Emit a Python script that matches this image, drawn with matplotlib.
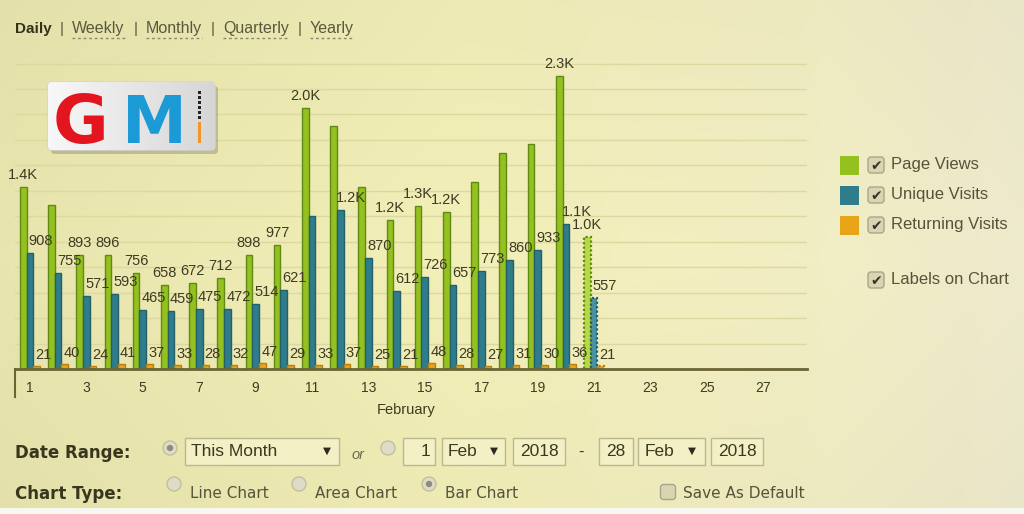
import numpy as np
import matplotlib.pyplot as plt
from matplotlib.patches import Rectangle, FancyBboxPatch, Circle

W, H = 1024, 514

# Daily traffic, 1-21 Feb 2018 (day 21 is the partial, still-running day)
days = list(range(1, 22))
page_views = [1430, 1290, 893, 896, 756, 658, 672, 712, 898, 977, 2050,
              1910, 1430, 1170, 1280, 1230, 1470, 1700, 1770, 2300, 1040]
unique_visits = [908, 755, 571, 593, 465, 459, 475, 472, 514, 621, 1205,
                 1250, 870, 612, 726, 657, 773, 860, 933, 1140, 557]
returning_visits = [21, 40, 24, 41, 37, 33, 28, 32, 47, 29, 33,
                    37, 25, 21, 48, 28, 27, 31, 30, 36, 21]

# labels the widget dropped because they collided with a neighbour
hidden_pv = [2, 12, 13, 17, 18, 19]
hidden_uv = [11]
partial_day = 21

tick_days = list(range(1, 29, 2))
month_name = 'February'
series_names = ['Page Views', 'Unique Visits', 'Returning Visits']
nav_items = ['Daily', 'Weekly', 'Monthly', 'Quarterly', 'Yearly']

GREEN = '#94c11f'
TEAL = '#2f7d8a'
ORANGE = '#e8a317'
TXT = '#3d3b22'

plt.rcParams['font.family'] = ['Liberation Sans', 'DejaVu Sans']

fig = plt.figure(figsize=(W / 100, H / 100), dpi=100)

# ---------------------------------------------------------------
# page background: pale yellow gradient
# ---------------------------------------------------------------
bg = fig.add_axes([0, 0, 1, 1], zorder=0)
xs = np.linspace(0, 1, W)
ys = np.linspace(0, 1, H)
chan = []
for stops in ([0xe9, 0xf3, 0xf2, 0xee], [0xe5, 0xef, 0xee, 0xea],
              [0xae, 0xb8, 0xc4, 0xcc]):
    chan.append(np.interp(xs, [0, 0.45, 0.8, 1], stops) / 255.0)
grad = np.dstack([np.tile(c, (H, 1)) for c in chan])
shade = 1 - 0.02 * np.abs(ys - 0.5)[:, None] * 2
grad = np.clip(grad * shade[:, :, None], 0, 1)
bg.imshow(grad, aspect='auto', extent=(0, W, H, 0))
bg.set_xlim(0, W)
bg.set_ylim(H, 0)
bg.axis('off')

# ---------------------------------------------------------------
# bar chart
# ---------------------------------------------------------------
ax = fig.add_axes([15 / W, (H - 369) / H, (807 - 15) / W, (369 - 63) / H],
                  zorder=1)
ax.patch.set_alpha(0)

x = np.array(days, dtype=float)
bw = 0.237
pv_bars = ax.bar(x - bw, page_views, bw, color=GREEN, edgecolor='#5f8a14',
                 linewidth=1, zorder=3)
uv_bars = ax.bar(x, unique_visits, bw, color=TEAL, edgecolor='#245f6a',
                 linewidth=1, zorder=3)
rv_bars = ax.bar(x + bw, returning_visits, bw, color=ORANGE,
                 edgecolor='#b87f10', linewidth=1, zorder=3)

# the running day is drawn dotted
k = days.index(partial_day)
for b in (pv_bars[k], uv_bars[k], rv_bars[k]):
    b.set_linestyle((0, (1, 1)))
    b.set_linewidth(1.6)
pv_bars[k].set_facecolor('#b7d84a')
uv_bars[k].set_facecolor('#4b93a0')


def fmt(v):
    return f'{v / 1000:.1f}K' if v >= 1000 else str(v)


for i, d in enumerate(days):
    if d not in hidden_pv:
        ax.annotate(fmt(page_views[i]), (x[i] - bw, page_views[i]),
                    xytext=(0, 12), textcoords='offset pixels', ha='center',
                    va='center', fontsize=10.5, color=TXT, zorder=4)
    if d not in hidden_uv:
        ax.annotate(fmt(unique_visits[i]), (x[i], unique_visits[i]),
                    xytext=(11, 12), textcoords='offset pixels', ha='center',
                    va='center', fontsize=10.5, color=TXT, zorder=4)
    ax.annotate(fmt(returning_visits[i]), (x[i] + bw, returning_visits[i]),
                xytext=(7, 11), textcoords='offset pixels', ha='center',
                va='center', fontsize=10.5, color=TXT, zorder=4)

ax.set_xlim(0.47, 28.55)
ax.set_ylim(0, 2404)
ax.set_yticks(range(0, 2401, 200))
ax.set_yticklabels([])
ax.tick_params(axis='y', length=0)
ax.set_xticks(tick_days)
ax.set_xticklabels([str(d) for d in tick_days])
ax.tick_params(axis='x', length=0, pad=9, labelsize=10, labelcolor=TXT)
ax.yaxis.grid(True, color='#ddd7a0', linewidth=1)
ax.set_axisbelow(True)
for side in ('top', 'right', 'left'):
    ax.spines[side].set_visible(False)
ax.spines['bottom'].set_color('#6b6535')
ax.spines['bottom'].set_linewidth(2)
ax.spines['bottom'].set_zorder(5)

# ---------------------------------------------------------------
# widget chrome, drawn in pixel coordinates
# ---------------------------------------------------------------
ui = fig.add_axes([0, 0, 1, 1], zorder=2)
ui.set_xlim(0, W)
ui.set_ylim(H, 0)
ui.axis('off')
ui.patch.set_alpha(0)

ui.plot([15, 15], [369, 397], color='#6b6535', lw=1.5)
ui.text(406, 410, month_name, ha='center', va='center', fontsize=10.5,
        color=TXT)

# period navigation
nav_x = [15, 72, 146, 223, 310]
nav_end = [52, 126, 202, 289, 354]
for i, name in enumerate(nav_items):
    if i == 0:
        ui.text(nav_x[i], 29, name, fontsize=11, fontweight='bold',
                color='#34321c', va='center')
    else:
        ui.text(nav_x[i] - 10, 29, '|', fontsize=11, color='#5a5840',
                va='center', ha='center')
        ui.text(nav_x[i], 29, name, fontsize=11.5, color='#5a5840',
                va='center')
        ui.plot([nav_x[i], nav_end[i]], [38, 38], color='#8a8870', lw=1,
                linestyle=(0, (2, 2)))


def checkbox(cx, cy, checked=True, s=16):
    ui.add_patch(FancyBboxPatch((cx - s / 2, cy - s / 2), s, s,
                                boxstyle='round,pad=0,rounding_size=3',
                                facecolor='#d9d5b2', edgecolor='#a9a58a',
                                lw=1))
    if checked:
        ui.text(cx, cy + 1, '\u2714', family='DejaVu Sans', fontsize=10,
                color='#34342c', ha='center', va='center')


def radio(cx, cy, on=False):
    ui.add_patch(Circle((cx, cy), 7, facecolor='#dedcc6',
                        edgecolor='#c2bf9f', lw=1))
    if on:
        ui.add_patch(Circle((cx, cy), 3.2, facecolor='#8d8b80', lw=0))


def box(x0, x1, y0=438, y1=465):
    ui.add_patch(Rectangle((x0, y0), x1 - x0, y1 - y0, facecolor='#f3f0c6',
                           edgecolor='#bcb78f', lw=1))


# legend
series_colors = [GREEN, TEAL, ORANGE]
for i, name in enumerate(series_names):
    cy = 165 + 30 * i
    ui.add_patch(Rectangle((840, cy - 9.5), 19, 19,
                           facecolor=series_colors[i], lw=0))
    checkbox(876, cy)
    ui.text(891, cy, name, fontsize=12, color='#55533a', va='center')
checkbox(876, 280)
ui.text(891, 280, 'Labels on Chart', fontsize=12, color='#55533a',
        va='center')

# logo
ui.add_patch(FancyBboxPatch((51, 86), 167, 68,
                            boxstyle='round,pad=0,rounding_size=4',
                            facecolor='#8c8a70', alpha=0.45, lw=0))
logo = FancyBboxPatch((48, 82), 167, 68,
                      boxstyle='round,pad=0,rounding_size=4',
                      facecolor='none', edgecolor='#d4d4d0', lw=1)
ui.add_patch(logo)
lg = np.linspace(0.97, 0.84, 64)[None, :].repeat(8, axis=0)
im = ui.imshow(np.dstack([lg, lg, lg]), extent=(48, 215, 150, 82),
               aspect='auto', zorder=1)
im.set_clip_path(logo)
ui.set_xlim(0, W)
ui.set_ylim(H, 0)
ui.text(81, 143, 'G', fontsize=49, fontweight='bold', color='#e3151f',
        family='DejaVu Sans', ha='center', va='baseline', zorder=3)
ui.text(154, 143, 'M', fontsize=47, fontweight='bold', color='#1b9ad6',
        family='DejaVu Sans', ha='center', va='baseline', zorder=3)
for yy in range(91, 119, 5):
    ui.add_patch(Rectangle((197.5, yy), 3, 3, facecolor='#222222', lw=0,
                           zorder=3))
ui.add_patch(Rectangle((197.5, 122), 3, 21, facecolor='#f0962a', lw=0,
                       zorder=3))

# date range row
ui.text(15, 453, 'Date Range:', family='DejaVu Sans', fontweight='bold',
        fontsize=12, color='#38361e', va='center')
radio(170, 448, on=True)
box(185, 339)
ui.text(191, 452, 'This Month', fontsize=12.5, color='#3a3820', va='center')
ui.text(327, 451, '\u25bc', family='DejaVu Sans', fontsize=7.5,
        color='#2a2a20', ha='center', va='center')
ui.text(358, 455, 'or', fontsize=10.5, style='italic', color='#6a6850',
        ha='center', va='center')
radio(388, 448)
box(403, 435)
ui.text(430, 452, '1', fontsize=12.5, color='#3a3820', ha='right',
        va='center')
box(442, 505)
ui.text(448, 452, 'Feb', fontsize=12.5, color='#3a3820', va='center')
ui.text(494, 451, '\u25bc', family='DejaVu Sans', fontsize=7.5,
        color='#2a2a20', ha='center', va='center')
box(513, 565)
ui.text(539, 452, '2018', fontsize=12.5, color='#3a3820', ha='center',
        va='center')
ui.text(581, 452, '-', fontsize=12, color='#3a3820', ha='center',
        va='center')
box(599, 633)
ui.text(616, 452, '28', fontsize=12.5, color='#3a3820', ha='center',
        va='center')
box(638, 705)
ui.text(645, 452, 'Feb', fontsize=12.5, color='#3a3820', va='center')
ui.text(692, 451, '\u25bc', family='DejaVu Sans', fontsize=7.5,
        color='#2a2a20', ha='center', va='center')
box(711, 763)
ui.text(737, 452, '2018', fontsize=12.5, color='#3a3820', ha='center',
        va='center')

# chart type row
ui.text(15, 494, 'Chart Type:', family='DejaVu Sans', fontweight='bold',
        fontsize=12, color='#38361e', va='center')
chart_types = ['Line Chart', 'Area Chart', 'Bar Chart']
type_x = [174, 299, 429]
for i, name in enumerate(chart_types):
    radio(type_x[i], 484, on=(name == 'Bar Chart'))
    ui.text(type_x[i] + 16, 494, name, family='DejaVu Sans', fontsize=11,
            color='#55533a', va='center')
checkbox(668, 492, checked=False, s=15)
ui.text(683, 494, 'Save As Default', family='DejaVu Sans', fontsize=11,
        color='#55533a', va='center')

ui.add_patch(Rectangle((0, 508), W, 6, facecolor='#f8f8f2', lw=0))

fig.savefig('out.png', dpi=100)
